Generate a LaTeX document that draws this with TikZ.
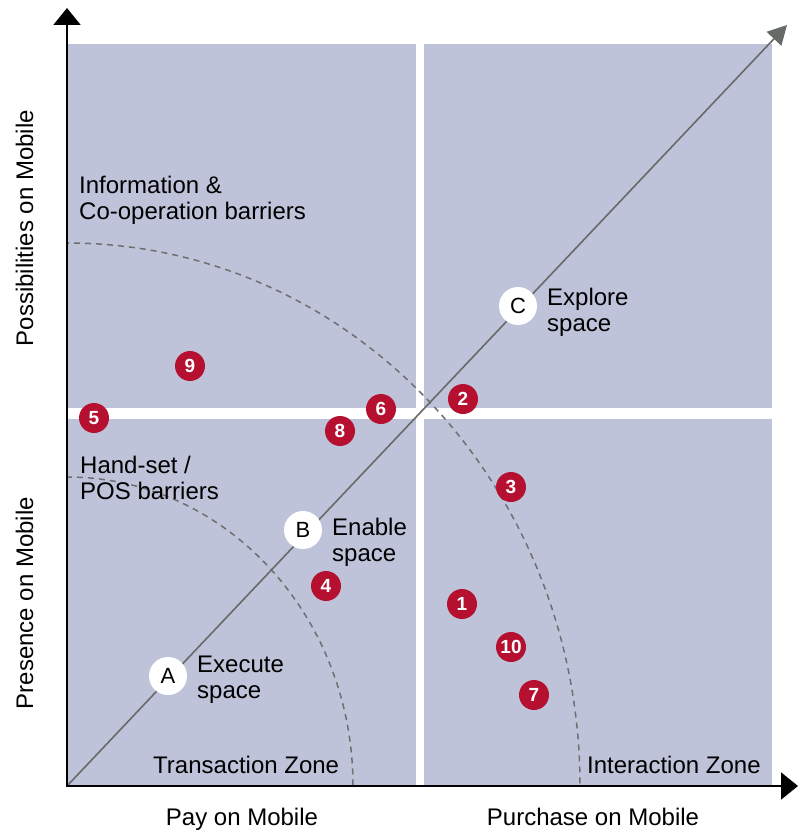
\documentclass[tikz,border=0pt]{standalone}
\usepackage{fontspec}
\setmainfont{Liberation Sans}
\usetikzlibrary{arrows.meta}
\definecolor{zone}{HTML}{BFC3DA}
\definecolor{dotred}{HTML}{B5102F}
\definecolor{diaggray}{HTML}{676B68}
\definecolor{dashgray}{HTML}{6E7070}
\begin{document}
\begin{tikzpicture}[x=1pt,y=-1pt,
  zonebox/.style={fill=zone,draw=none},
  num/.style={circle,fill=dotred,minimum size=30pt,inner sep=0pt,text=white,font=\fontsize{19}{19}\selectfont\bfseries},
  letter/.style={circle,fill=white,minimum size=38pt,inner sep=0pt,font=\fontsize{22}{22}\selectfont},
  lbl/.style={font=\fontsize{24}{26}\selectfont,align=left,inner sep=0pt,anchor=north west},
  axislbl/.style={font=\fontsize{24}{26}\selectfont,inner sep=0pt},
  barrier/.style={draw=dashgray,line width=1.5pt,dash pattern=on 6pt off 5pt},
  axisline/.style={line width=2pt,-{Triangle[width=27pt,length=17pt]}},
  diagline/.style={draw=diaggray,line width=1.6pt,-{Triangle[width=20pt,length=19pt]}}
]
\useasboundingbox (0,0) rectangle (798,832);
% zones
\fill[zonebox] (67,44) rectangle (416,408);
\fill[zonebox] (67,419) rectangle (416,786);
\fill[zonebox] (424,44) rectangle (772,408);
\fill[zonebox] (424,419) rectangle (772,786);
% barriers
\draw[barrier] (67,786) -- (67,243) arc[start angle=-90,end angle=0,x radius=513,y radius=543] -- cycle;
\draw[barrier] (67,786) -- (67,477) arc[start angle=-90,end angle=0,x radius=286,y radius=309] -- cycle;
% coordinates
\coordinate (o) at (67,786);
\coordinate (ytip) at (67,8);
\coordinate (xtip) at (798,786);
\coordinate (dtip) at (787,25);
% diagonal
\draw[diagline] (o) -- (dtip);
% axes
\draw[axisline] (o) -- (ytip);
\draw[axisline] (66,786) -- (xtip);
% spaces
\node[letter] (A) at (168,676) {A};
\node[letter] (B) at (303,530) {B};
\node[letter] (C) at (518,306) {C};
\node[lbl] (lA) at (197,656) {Execute\\space};
\node[lbl] (lB) at (332,518) {Enable\\space};
\node[lbl] (lC) at (547,288) {Explore\\space};
% barrier labels
\node[lbl] (info) at (79,176) {Information \&\\Co-operation barriers};
\node[lbl] (hand) at (80,456) {Hand-set /\\POS barriers};
% zone labels
\node[axislbl,anchor=base west] (tz) at (153,773) {Transaction Zone};
\node[axislbl,anchor=base west] (iz) at (587,773) {Interaction Zone};
% axis labels
\node[axislbl,anchor=base] (pay) at (242,825) {Pay on Mobile};
\node[axislbl,anchor=base] (pur) at (593,825) {Purchase on Mobile};
\node[axislbl,anchor=base,rotate=90] (poss) at (33,228) {Possibilities on Mobile};
\node[axislbl,anchor=base,rotate=90] (pres) at (33,603) {Presence on Mobile};
% numbered points
\node[num] (n9) at (190,366) {9};
\node[num] (n5) at (94,418) {5};
\node[num] (n8) at (340,431) {8};
\node[num] (n6) at (381,409) {6};
\node[num] (n2) at (463,399) {2};
\node[num] (n3) at (511,487) {3};
\node[num] (n4) at (326,586) {4};
\node[num] (n1) at (462,604) {1};
\node[num] (n10) at (511,647) {10};
\node[num] (n7) at (534,695) {7};
\end{tikzpicture}
\end{document}
